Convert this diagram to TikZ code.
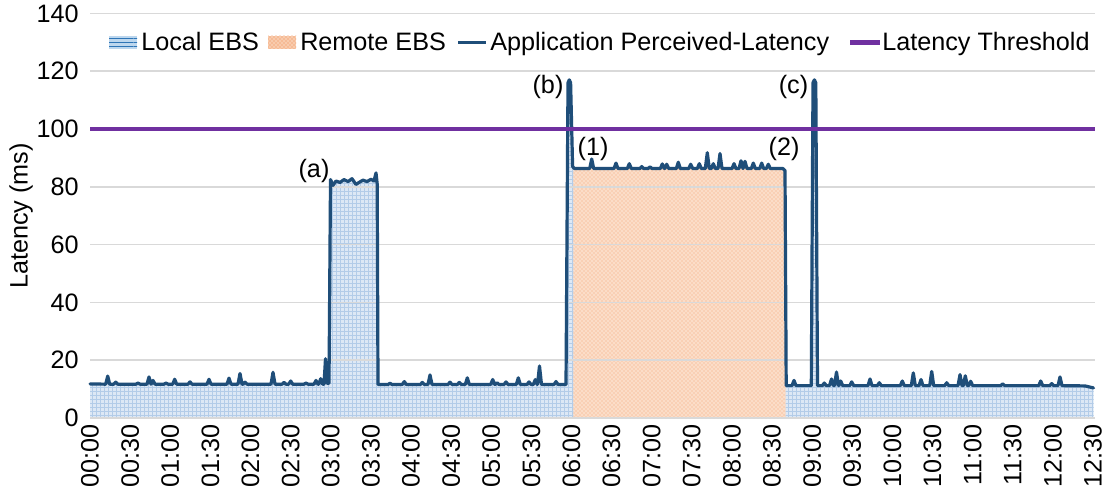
\documentclass[tikz,border=0pt]{standalone}
\usepackage{fontspec}
\setmainfont{Liberation Sans}
\usetikzlibrary{patterns}
\definecolor{lineblue}{HTML}{1F4E79}
\definecolor{thrpurple}{HTML}{7030A0}
\definecolor{gridgray}{HTML}{D9D9D9}
\definecolor{localfill}{HTML}{DDE8F5}
\definecolor{localpat}{HTML}{B3CCE8}
\definecolor{remotefill}{HTML}{FBDDC8}
\definecolor{remotepat}{HTML}{F3A877}
\definecolor{swatchblue}{HTML}{2E75B6}
\definecolor{swatchlight}{HTML}{BDD7EE}
\definecolor{swatchorange}{HTML}{F08A4B}
\definecolor{swatchpeach}{HTML}{F8CBAD}

\def\curve{(90,11.8)
 \foreach \p/\h in {107.7/14.5, 115.7/12.4, 138/12.1, 149/14.2, 153/13, 166/12.1, 174.7/13.4, 190/12.5, 209/13.4, 229/13.8, 240/15.4, 245/12.4, 273/15.8, 284/12.3, 290.7/12.8, 306/12.1, 316/13, 320.7/13.6}{ -- (\p-2,11.7) -- (\p,\h) -- (\p+2,11.7)}
 -- (324,11.7) -- (325.5,20.5) -- (327,12) -- (329,12) -- (330.5,82.5)
 -- (333,80.5) -- (336,82) -- (340,81.5) -- (344,82.5) -- (348,81.8) -- (352,82.8) -- (356,80.8) -- (359,81.5) -- (363,82.3) -- (367,81.8) -- (371,82.6) -- (374,82) -- (376,84.8) -- (377.2,81) -- (378,11.6)
 \foreach \p/\h in {390/12, 404.3/12.6, 422.3/12.3, 430/14.9, 450/12.4, 459.3/12.3, 467.3/13.9, 492.7/13.3, 497/12.2, 506/12.5, 518.3/13.9, 529/12.5, 535.3/13.3, 539.5/18, 556/12.6}{ -- (\p-2,11.6) -- (\p,\h) -- (\p+2,11.6)}
 -- (566,11.6) -- (568,116) -- (569.3,117) -- (570.6,116) -- (572.6,87) -- (574.5,86.3)
 \foreach \p/\h in {591.7/89.6, 616/88.2, 629.3/88, 641.7/87, 650/86.9, 662.3/87.9, 666.7/87.8, 678.3/88.5, 690.7/87.8, 699.3/88, 707.3/91.8, 713.3/88, 720/91.5, 734/88, 741/89, 745/88.8, 753.3/88.2, 761.7/88.2, 768.3/87.8}{ -- (\p-2,86.3) -- (\p,\h) -- (\p+2,86.3)}
 -- (783,86.3) -- (785,85.6) -- (786.2,11.2)
 -- (792,11.2) -- (794,13) -- (796,11.2)
 -- (811.3,11.2) -- (813,116) -- (814.4,117) -- (815.8,116) -- (817.5,11.2)
 \foreach \p/\h in {824.3/12.1, 831.5/13.5, 836.5/15.9, 840.7/12.8, 851.7/12.5, 870/13.5, 879.3/12.2, 902.3/12.8, 913.3/15.6, 921/13.3, 931.7/16.1, 946.7/12.2, 960/15, 965.3/14.6, 970.7/12.7, 1002.7/11.8, 1040.7/12.8, 1051.7/11.9, 1060/14.2}{ -- (\p-2,11.2) -- (\p,\h) -- (\p+2,11.2)}
 -- (1085,11.1) -- (1093.5,10.4)}

\begin{document}
\begin{tikzpicture}[x=0.75pt,y=0.75pt,
  txt/.style={font=\fontsize{18.9}{22}\selectfont, inner sep=0pt, text=black},
  gridline/.style={draw=gridgray, line width=1.1pt},
  dataline/.style={draw=lineblue, line width=2.4pt, line join=round, line cap=round},
  thrline/.style={draw=thrpurple, line width=3.6pt}]
\useasboundingbox (0,0) rectangle (1113,495);
\fill[white] (0,0) rectangle (1113,495);

\begin{scope}[y=2.1675pt, yshift=57.75pt]
  % area fills
  \fill[localfill, postaction={pattern=grid, pattern color=localpat}] \curve -- (1093.5,0) -- (90,0) -- cycle;
  \begin{scope}
    \clip (573.3,0) rectangle (785.6,140);
    \fill[remotefill, postaction={pattern=crosshatch dots, pattern color=remotepat}] \curve -- (1093.5,0) -- (90,0) -- cycle;
  \end{scope}
  % grid
  \foreach \v in {0,20,...,140} {
    \draw[gridline] (90,\v) -- (1095,\v);
    \node[txt, anchor=east] (yl\v) at (79,\v) {\v};
  }
  % data
  \draw[dataline] \curve;
  \draw[thrline] (90,100) -- (1095,100);
  % annotations
  \node[txt] (la) at (314,85.5) {(a)};
  \node[txt] (lb) at (548,114.5) {(b)};
  \node[txt] (lc) at (793.5,114.5) {(c)};
  \node[txt] (l1) at (593,93) {(1)};
  \node[txt] (l2) at (784,93) {(2)};
\end{scope}

% x tick labels
\foreach \i/\t in {0/00:00,1/00:30,2/01:00,3/01:30,4/02:00,5/02:30,6/03:00,7/03:30,8/04:00,9/04:30,10/05:00,11/05:30,12/06:00,13/06:30,14/07:00,15/07:30,16/08:00,17/08:30,18/09:00,19/09:30,20/10:00,21/10:30,22/11:00,23/11:30,24/12:00,25/12:30}
  \node[txt, rotate=90, anchor=east] (xl\i) at ({90+40.12*\i},71) {\t};

% y title
\node[txt, rotate=90] (ytitle) at (21,279) {Latency (ms)};

% legend
\path[fill=swatchlight, postaction={pattern=horizontal lines, pattern color=swatchblue}] (109,446) rectangle (137,459);
\node[txt, anchor=base west] (leg1) at (141,444.5) {Local EBS};
\path[fill=swatchpeach, postaction={pattern=crosshatch dots, pattern color=swatchorange}] (268,446) rectangle (296,459);
\node[txt, anchor=base west] (leg2) at (300,444.5) {Remote EBS};
\draw[draw=lineblue, line width=2.4pt] (458,452.5) -- (486,452.5);
\node[txt, anchor=base west] (leg3) at (490,444.5) {Application Perceived-Latency};
\draw[thrline] (850,452.5) -- (880,452.5);
\node[txt, anchor=base west] (leg4) at (882,444.5) {Latency Threshold};
\end{tikzpicture}
\end{document}
